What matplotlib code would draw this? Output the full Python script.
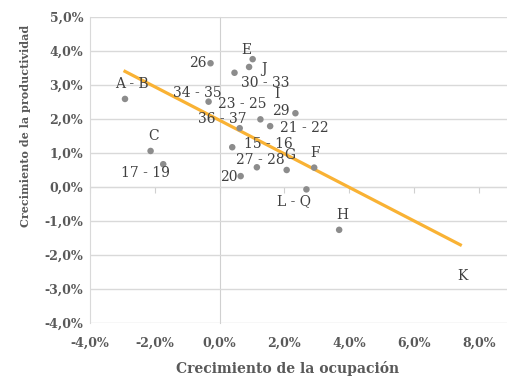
import numpy as np
import matplotlib
matplotlib.use("Agg")
import matplotlib.pyplot as plt

# Sectores: crecimiento de la ocupación (x) y de la productividad (y), en %
sectores = ["A - B", "C", "17 - 19", "26", "34 - 35", "E", "J", "30 - 33", "I",
            "23 - 25", "29", "21 - 22", "36 - 37", "15 - 16", "27 - 28", "G",
            "F", "20", "L - Q", "H", "K"]
ocupacion = [-2.92, -2.13, -1.74, -0.28, -0.34, 1.02, 0.91, 0.46, 1.78,
             1.26, 2.34, 1.56, 0.62, 0.39, 1.15, 2.07,
             2.92, 0.65, 2.68, 3.69, 7.43]
productividad = [2.59, 1.06, 0.67, 3.64, 2.51, 3.76, 3.53, 3.36, 2.29,
                 1.99, 2.17, 1.79, 1.73, 1.17, 0.58, 0.50,
                 0.57, 0.32, -0.07, -1.26, -3.30]
x_ticks = [-4, -2, 0, 2, 4, 6, 8]
y_ticks = [-4, -3, -2, -1, 0, 1, 2, 3, 4, 5]

# markers not shown in the original
ocultos = {"I", "K"}

# label offsets in pixels (dx, dy), same order as sectores
offsets = [(7, 15), (3, 15), (-18, -9), (-13, 0), (-11, 9), (-6, 9), (15, -2),
           (31, -10), (0, 15), (-18, 15), (-15, 2), (34, -2), (-17, 9),
           (36, 3), (3, 7), (3, 15), (1, 15), (-12, -1), (-12, -12),
           (3, 15), (2, 23)]

plt.rcParams["font.family"] = ["DejaVu Serif"]
gris = "#595959"

fig = plt.figure(figsize=(5.07, 3.79), dpi=100)
ax = fig.add_axes([90 / 507, 56 / 379, 417 / 507, 306 / 379])

xmin, xmax = -4, -4 + 417 / 32.4
ymin, ymax = -4, 5
ax.set_xlim(xmin, xmax)
ax.set_ylim(ymin, ymax)

ax.set_yticks(y_ticks)
ax.set_xticks(x_ticks)
ax.set_yticklabels([f"{v:.1f}%".replace(".", ",") for v in y_ticks])
ax.set_xticklabels([f"{v:.1f}%".replace(".", ",") for v in x_ticks])
ax.grid(axis="y", color="#d9d9d9", linewidth=1)
ax.set_axisbelow(True)
ax.tick_params(axis="both", length=0, labelsize=9, labelcolor=gris)
for t in ax.get_xticklabels() + ax.get_yticklabels():
    t.set_fontweight("bold")
ax.tick_params(axis="x", pad=10)
ax.tick_params(axis="y", pad=5)
for s in ["top", "right", "bottom"]:
    ax.spines[s].set_visible(False)
ax.spines["left"].set_color("#d9d9d9")

# axis lines crossing at zero
sec_x = ax.secondary_xaxis((0 - ymin) / (ymax - ymin))
sec_x.set_xticks(x_ticks)
sec_x.set_xticklabels([])
sec_x.tick_params(length=4, direction="out", color="#d0d0d0")
sec_x.spines["bottom"].set_color("#d0d0d0")
sec_y = ax.secondary_yaxis((0 - xmin) / (xmax - xmin))
sec_y.set_yticks(y_ticks)
sec_y.set_yticklabels([])
sec_y.tick_params(length=0)
sec_y.spines["left"].set_color("#d0d0d0")

colores = [(0, 0, 0, 0) if s in ocultos else "#8c8c8c" for s in sectores]
ax.scatter(ocupacion, productividad, s=22, c=colores, zorder=3, linewidths=0)

# linear trend
coef = np.polyfit(ocupacion, productividad, 1)
xs = np.array([min(ocupacion), max(ocupacion)])
ax.plot(xs, np.polyval(coef, xs), color="#f9b234", linewidth=2.3, zorder=2)

for s, x, y, (dx, dy) in zip(sectores, ocupacion, productividad, offsets):
    ax.annotate(s, (x, y), xytext=(dx, dy), textcoords="offset pixels",
                ha="center", va="center", fontsize=10, color="#404040", zorder=4)

fig.text(288 / 507, 1 - 369 / 379, "Crecimiento de la ocupación",
         ha="center", va="center", fontsize=10, fontweight="bold", color=gris)
fig.text(26 / 507, 1 - 126 / 379, "Crecimiento de la productividad",
         ha="center", va="center", rotation=90, fontsize=8, fontweight="bold",
         color=gris)

fig.savefig("out.png", dpi=100)
